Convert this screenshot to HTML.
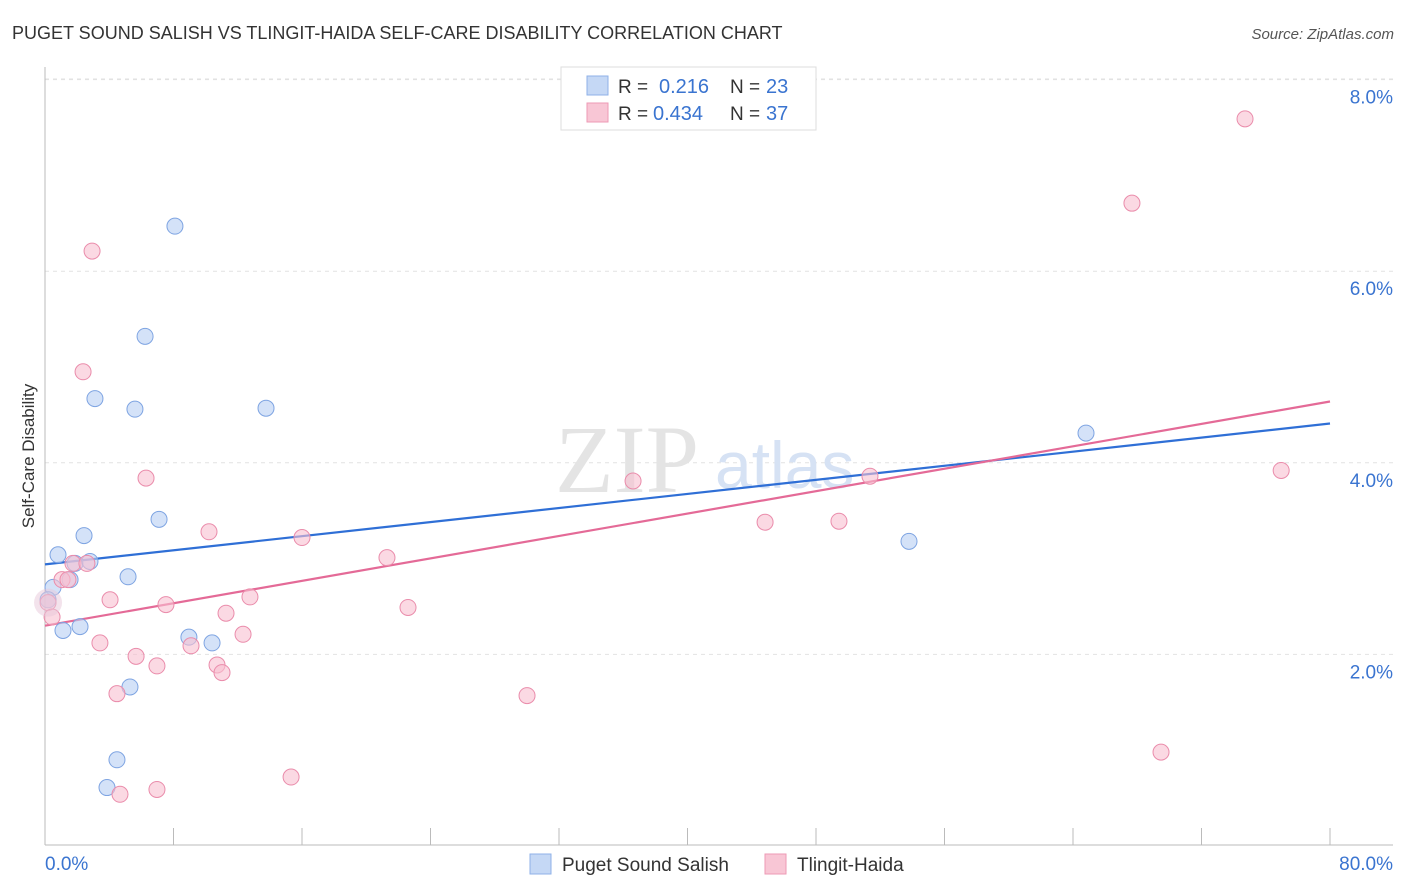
<!DOCTYPE html>
<html><head><meta charset="utf-8">
<style>
body{margin:0;background:#fff;font-family:"Liberation Sans",sans-serif;}
svg{display:block}
</style></head>
<body>
<svg id="chart" width="1406" height="892" xmlns="http://www.w3.org/2000/svg">
<text x="12" y="39" font-size="18" fill="#333">PUGET SOUND SALISH VS TLINGIT-HAIDA SELF-CARE DISABILITY CORRELATION CHART</text>
<text x="1394" y="39" font-size="15" fill="#555" font-style="italic" text-anchor="end">Source: ZipAtlas.com</text>
<text transform="translate(34,456) rotate(-90)" font-size="17" fill="#333" text-anchor="middle">Self-Care Disability</text>
<g id="grid"></g>
<text x="555" y="492" font-size="96" font-family="Liberation Serif,serif" fill="#e4e4e4">ZIP</text>
<text x="715" y="488" font-size="66" fill="#d6e2f4">atlas</text>
<g id="axes"></g>
<g id="lines"></g>
<g id="pts"></g>
<g>
<rect x="561" y="67" width="255" height="63" fill="#fff" stroke="#ddd"/>
<rect x="587" y="76" width="21" height="19" fill="#c5d8f5" stroke="#8fb1e8"/>
<rect x="587" y="103" width="21" height="19" fill="#f8c6d5" stroke="#ee9ab5"/>
<text x="618" y="93" font-size="19" fill="#333">R = </text><text x="659" y="93" font-size="20" fill="#3a74d0">0.216</text>
<text x="730" y="93" font-size="19" fill="#333">N = </text><text x="766" y="93" font-size="20" fill="#3a74d0">23</text>
<text x="618" y="120" font-size="19" fill="#333">R = </text><text x="653" y="120" font-size="20" fill="#3a74d0">0.434</text>
<text x="730" y="120" font-size="19" fill="#333">N = </text><text x="766" y="120" font-size="20" fill="#3a74d0">37</text>
</g>
<g>
<rect x="530" y="854" width="21" height="20" fill="#c5d8f5" stroke="#8fb1e8"/>
<text x="562" y="871" font-size="19" fill="#333">Puget Sound Salish</text>
<rect x="765" y="854" width="21" height="20" fill="#f8c6d5" stroke="#ee9ab5"/>
<text x="797" y="871" font-size="19" fill="#333">Tlingit-Haida</text>
</g>
</svg>
<script>
const xTicks=[0,80];
const yTicks=[2,4,6,8];
const blueX=[0.50,0.81,1.12,1.56,1.87,2.18,2.43,2.80,3.11,3.86,4.48,5.17,5.29,5.60,6.23,7.10,8.09,8.96,10.40,13.76,53.79,64.81,0.19];
const blueY=[2.70,3.04,2.25,2.78,2.95,2.29,3.24,2.97,4.67,0.61,0.90,2.81,1.66,4.56,5.32,3.41,6.47,2.18,2.12,4.57,3.18,4.31,2.57];
const pinkX=[0.19,0.44,1.06,1.43,1.74,2.37,2.61,2.93,3.42,4.05,4.48,4.67,5.67,6.29,6.97,6.97,7.53,9.09,10.21,10.71,11.02,11.27,12.33,12.76,15.32,16.00,21.29,22.60,30.01,36.61,44.83,49.43,51.36,67.67,69.48,74.71,76.96];
const pinkY=[2.54,2.39,2.78,2.78,2.95,4.95,2.95,6.21,2.12,2.57,1.59,0.54,1.98,3.84,0.59,1.88,2.52,2.09,3.28,1.89,1.81,2.43,2.21,2.60,0.72,3.22,3.01,2.49,1.57,3.81,3.38,3.39,3.86,6.71,0.98,7.59,3.92];
const blueTrend=[2.94,4.41];
const pinkTrend=[2.30,4.64];
const NS="http://www.w3.org/2000/svg";
const sx=v=>45+v/80*1285;
const sy=v=>846-v*95.8;
function mk(tag,attrs,parent){const e=document.createElementNS(NS,tag);for(const k in attrs)e.setAttribute(k,attrs[k]);parent.appendChild(e);return e;}
const grid=document.getElementById('grid'),axes=document.getElementById('axes');
yTicks.forEach(t=>{
 const l=mk('line',{x1:45,x2:1393,y1:sy(t),y2:sy(t),stroke:'#e2e2e2','stroke-dasharray':'4,4'},grid);
 
 
 const tx=mk('text',{x:1393,y:sy(t)+24,'font-size':19,fill:'#3a74d0','text-anchor':'end'},axes);
 tx.textContent=t.toFixed(1)+'%';
 
 
});
mk('line',{x1:45,x2:1393,y1:79,y2:79,stroke:'#e2e2e2','stroke-dasharray':'4,4'},grid);
mk('line',{x1:45,x2:45,y1:67,y2:845,stroke:'#bbb'},axes);
mk('line',{x1:45,x2:1393,y1:845,y2:845,stroke:'#bbb'},axes);
for(let i=0;i<=10;i++){const tk=mk('line',{x1:sx(i*8),x2:sx(i*8),y1:828,y2:845,stroke:'#bbb'},axes);
 
 }
xTicks.forEach((t,i)=>{
 const tx=mk('text',{x:i?1393:45,y:870,'font-size':19,fill:'#3a74d0','text-anchor':i?'end':'start'},axes);
 tx.textContent=t.toFixed(1)+'%';
 
 
});
const pts=document.getElementById('pts');
function drawSeries(X,Y,fill,stroke,name){
 X.forEach((x,i)=>{
  const c=mk('circle',{cx:sx(x),cy:sy(Y[i]),r:8,fill:fill,'fill-opacity':0.6,stroke:stroke,'stroke-width':1},pts);
  
  
 });
}
drawSeries(blueX,blueY,'#b8cff3','#7ea4e2','puget-point');
drawSeries(pinkX,pinkY,'#f8bfd1','#ea8cab','tlingit-point');
const big=mk('circle',{cx:sx(pinkX[0]),cy:sy(pinkY[0]),r:14,fill:'#e7c8da','fill-opacity':0.5,stroke:'none'},pts);


const lines=document.getElementById('lines');
const bl=mk('line',{x1:sx(0),y1:sy(blueTrend[0]),x2:sx(80),y2:sy(blueTrend[1]),stroke:'#2f6fd6','stroke-width':2.2},lines);


const pl=mk('line',{x1:sx(0),y1:sy(pinkTrend[0]),x2:sx(80),y2:sy(pinkTrend[1]),stroke:'#e46a97','stroke-width':2.2},lines);


</script>
</body></html>
